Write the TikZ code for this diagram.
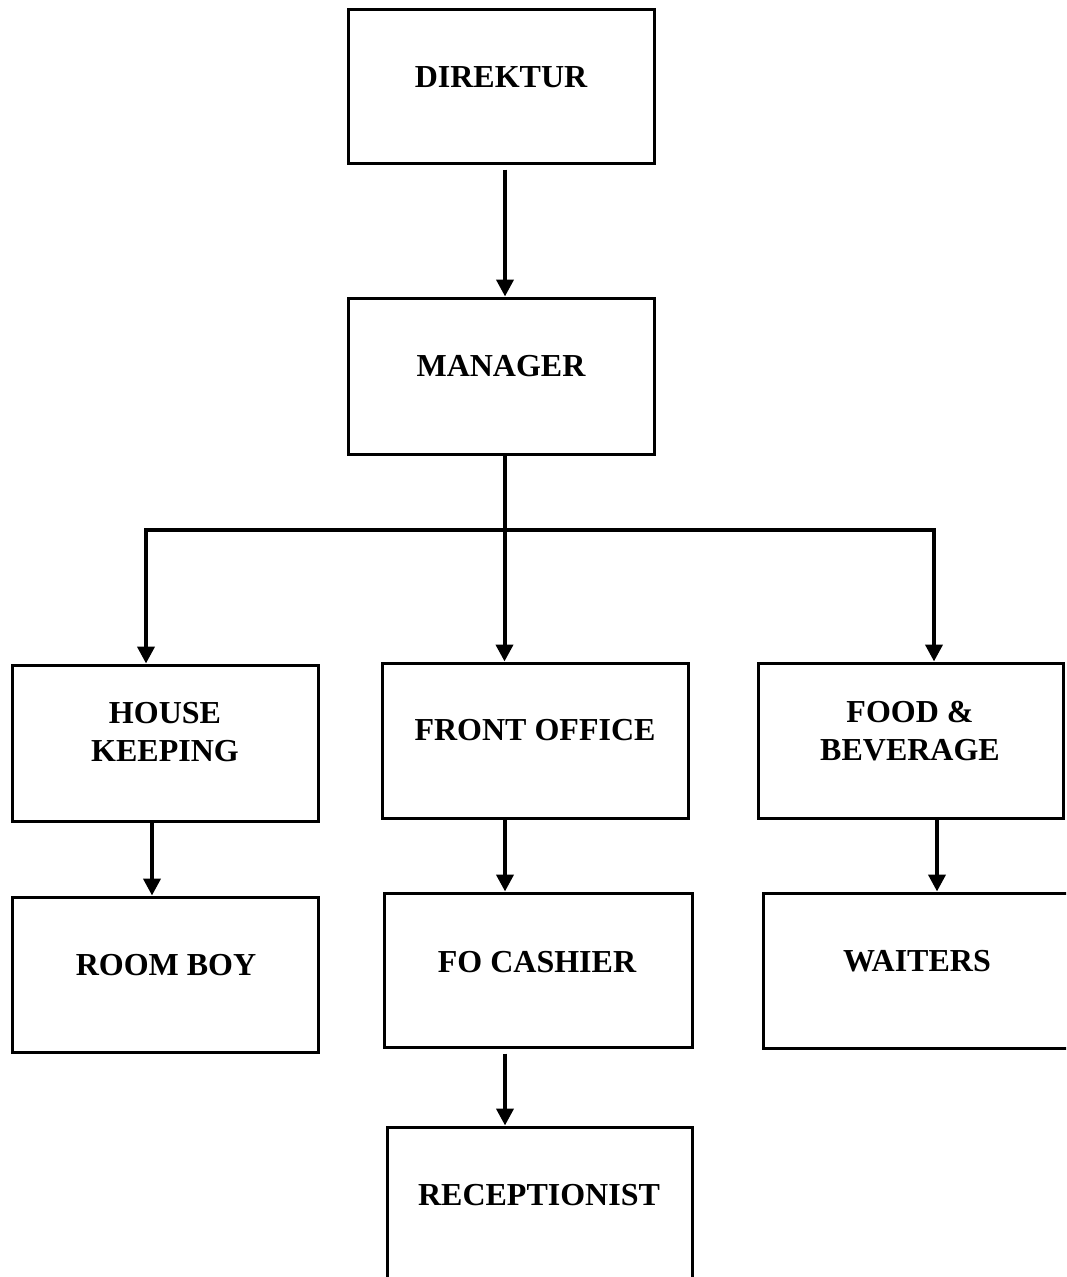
\documentclass[tikz,border=0pt]{standalone}
\usepackage{fontspec}
\setmainfont{Liberation Serif}
\usetikzlibrary{arrows.meta}
\begin{document}
\begin{tikzpicture}[x=1pt,y=1pt,
  box/.style={draw=black,line width=3pt,rectangle,inner sep=0pt,minimum width=306pt,minimum height=155pt},
  txt/.style={align=center,inner sep=0pt,font=\fontsize{32}{38.5}\selectfont\bfseries},
  conn/.style={draw=black,line width=4pt},
  arr/.style={conn,-{Triangle[length=17pt,width=17pt]}}]
\clip (0,0) rectangle (1066,-1277);
\fill[white] (0,0) rectangle (1066,-1277);
% boxes
\node[box,minimum height=154pt] (dir) at (501,-86) {};
\node[box,minimum height=156pt] (mgr) at (501,-376) {};
\node[box,minimum height=156pt] (hk) at (165,-743) {};
\node[box] (fo) at (535,-740.5) {};
\node[box,minimum width=305pt] (fb) at (910.5,-740.5) {};
\node[box] (rb) at (165,-974.5) {};
\node[box,minimum width=308pt,minimum height=154pt] (foc) at (538,-970) {};
\node[box] (w) at (916,-970.5) {};
\node[box,minimum width=305pt] (rec) at (539.5,-1204.5) {};
% texts
\node[txt] (dirT) at (501,-77) {DIREKTUR};
\node[txt] (mgrT) at (501,-366) {MANAGER};
\node[txt] (hkT) at (165,-732) {HOUSE\\KEEPING};
\node[txt] (foT) at (535,-730) {FRONT OFFICE};
\node[txt] (fbT) at (910,-731) {FOOD \&\\BEVERAGE};
\node[txt] (rbT) at (166,-965) {ROOM BOY};
\node[txt] (focT) at (537,-962) {FO CASHIER};
\node[txt] (wT) at (917,-961) {WAITERS};
\node[txt] (recT) at (539,-1195) {RECEPTIONIST};
% connectors
\draw[arr] ([xshift=4pt,yshift=-5pt]dir.south) -- ([xshift=4pt]mgr.north);
\draw[arr] ([xshift=3.5pt]mgr.south) -- ([xshift=3.5pt]mgr.south |- fo.north);
\coordinate (barL) at (146,-530);
\coordinate (barR) at (934,-530);
\draw[arr] (barR) -- (barL) -- (barL |- hk.north);
\draw[arr] (barL) -- (barR) -- (barR |- fb.north);
\draw[arr] ([xshift=-13pt]hk.south) -- ([xshift=-13pt]hk.south |- rb.north);
\draw[arr] ([xshift=-30pt]fo.south) -- ([xshift=-30pt]fo.south |- foc.north);
\draw[arr] ([xshift=26.5pt]fb.south) -- ([xshift=26.5pt]fb.south |- w.north);
\draw[arr] ([xshift=-33pt,yshift=-5pt]foc.south) -- ([xshift=-33pt]foc.south |- rec.north);
\end{tikzpicture}
\end{document}
